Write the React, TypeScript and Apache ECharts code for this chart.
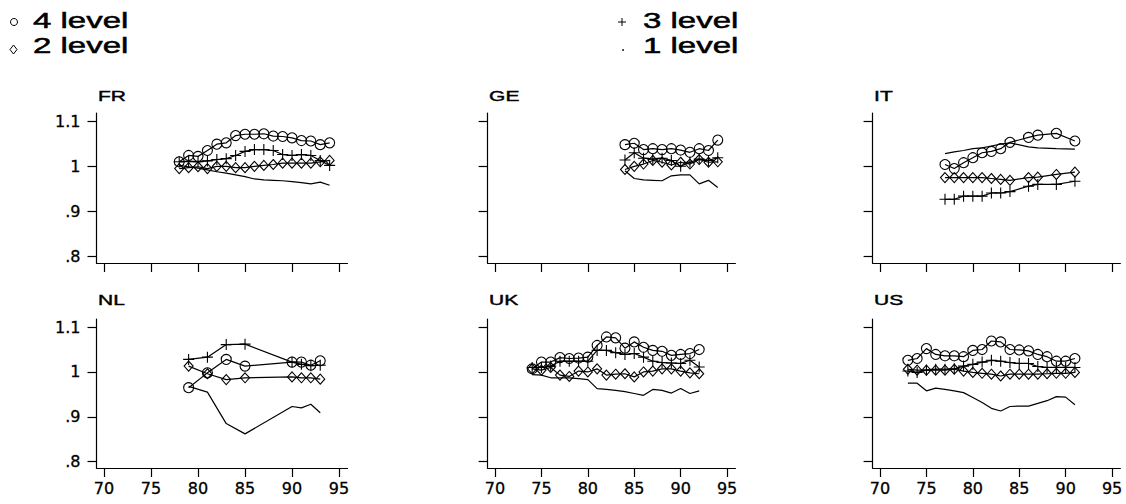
import React, { useEffect, useRef } from "react";
import * as echarts from "echarts";

const levelLabels = ["4 level", "3 level", "2 level", "1 level"];
const countries = ["FR", "GE", "IT", "NL", "UK", "US"];
const xTicks = [70, 75, 80, 85, 90, 95];
const yTicks = [0.8, 0.9, 1.0, 1.1];

const frYears = [78, 79, 80, 81, 82, 83, 84, 85, 86, 87, 88, 89, 90, 91, 92, 93, 94];
const fr4 = [1.010, 1.024, 1.022, 1.035, 1.049, 1.052, 1.068, 1.071, 1.071, 1.072, 1.067, 1.066, 1.063, 1.057, 1.056, 1.048, 1.052];
const fr3 = [1.010, 1.011, 1.010, 1.012, 1.015, 1.017, 1.024, 1.033, 1.037, 1.037, 1.035, 1.026, 1.024, 1.026, 1.024, 1.013, 1.002];
const fr2 = [0.995, 0.997, 0.999, 0.995, 1.000, 1.000, 0.997, 0.997, 1.000, 1.002, 1.004, 1.007, 1.007, 1.007, 1.007, 1.010, 1.013];
const fr1 = [1.002, 0.999, 0.996, 0.992, 0.988, 0.985, 0.981, 0.977, 0.972, 0.970, 0.969, 0.968, 0.966, 0.964, 0.961, 0.965, 0.958];

const geYears = [84, 85, 86, 87, 88, 89, 90, 91, 92, 93, 94];
const ge4 = [1.048, 1.051, 1.037, 1.039, 1.037, 1.039, 1.036, 1.031, 1.039, 1.035, 1.058];
const ge3 = [1.014, 1.030, 1.018, 1.016, 1.018, 1.013, 1.000, 1.009, 1.016, 1.013, 1.019];
const ge2 = [0.993, 1.000, 1.005, 1.013, 1.009, 1.003, 1.009, 1.005, 1.015, 1.009, 1.010];
const ge1 = [0.990, 0.973, 0.970, 0.969, 0.968, 0.979, 0.981, 0.981, 0.961, 0.969, 0.953];

const itYears = [77, 78, 79, 80, 81, 82, 83, 84, 86, 87, 89, 91];
const it4 = [1.004, 0.995, 1.008, 1.019, 1.030, 1.033, 1.039, 1.053, 1.064, 1.069, 1.073, 1.056];
const it3 = [0.927, 0.927, 0.934, 0.934, 0.934, 0.941, 0.941, 0.944, 0.956, 0.960, 0.960, 0.967];
const it2 = [0.975, 0.975, 0.975, 0.975, 0.975, 0.973, 0.971, 0.969, 0.975, 0.976, 0.982, 0.987];
const it1 = [1.028, 1.032, 1.035, 1.039, 1.041, 1.045, 1.049, 1.052, 1.043, 1.041, 1.039, 1.038];

const nlYears = [79, 81, 83, 85, 90, 91, 92, 93];
const nl4 = [0.965, 0.998, 1.028, 1.013, 1.022, 1.022, 1.015, 1.025];
const nl3 = [1.028, 1.033, 1.061, 1.062, 1.022, 1.017, 1.014, 1.015];
const nl2 = [1.013, 0.996, 0.983, 0.987, 0.989, 0.987, 0.987, 0.984];
const nl1 = [0.968, 0.955, 0.885, 0.862, 0.923, 0.920, 0.928, 0.909];

const ukYears = [74, 75, 76, 77, 78, 79, 80, 81, 82, 83, 84, 85, 86, 87, 88, 89, 90, 91, 92];
const uk4 = [1.007, 1.022, 1.022, 1.032, 1.030, 1.031, 1.033, 1.059, 1.078, 1.076, 1.053, 1.067, 1.055, 1.048, 1.046, 1.037, 1.039, 1.041, 1.050];
const uk3 = [1.010, 1.010, 1.013, 1.024, 1.024, 1.024, 1.024, 1.048, 1.048, 1.043, 1.039, 1.041, 1.033, 1.024, 1.021, 1.020, 1.019, 1.026, 1.011];
const uk2 = [1.007, 1.004, 1.010, 0.993, 0.990, 1.002, 1.000, 1.007, 0.993, 0.995, 0.996, 0.989, 1.000, 1.002, 1.007, 1.007, 1.002, 0.998, 0.996];
const uk1 = [0.994, 0.993, 0.987, 0.987, 0.987, 0.985, 0.983, 0.963, 0.961, 0.959, 0.956, 0.952, 0.948, 0.961, 0.959, 0.953, 0.963, 0.952, 0.958];

const usYears = [73, 74, 75, 76, 77, 78, 79, 80, 81, 82, 83, 84, 85, 86, 87, 88, 89, 90, 91];
const us4 = [1.026, 1.030, 1.052, 1.039, 1.036, 1.036, 1.034, 1.048, 1.050, 1.069, 1.067, 1.050, 1.049, 1.047, 1.039, 1.034, 1.024, 1.024, 1.030];
const us3 = [1.002, 0.999, 1.004, 1.006, 1.006, 1.007, 1.013, 1.017, 1.022, 1.026, 1.024, 1.021, 1.019, 1.019, 1.012, 1.010, 1.010, 1.010, 1.010];
const us2 = [1.006, 1.004, 1.004, 1.004, 1.004, 1.006, 1.002, 0.999, 0.997, 0.995, 0.991, 0.995, 0.995, 0.995, 0.995, 0.996, 0.997, 0.997, 0.999];
const us1 = [0.975, 0.975, 0.958, 0.964, 0.961, 0.958, 0.954, 0.943, 0.932, 0.919, 0.913, 0.923, 0.924, 0.924, 0.930, 0.936, 0.945, 0.944, 0.927];

const panelData = [
  { years: frYears, levels: [fr4, fr3, fr2, fr1] },
  { years: geYears, levels: [ge4, ge3, ge2, ge1] },
  { years: itYears, levels: [it4, it3, it2, it1] },
  { years: nlYears, levels: [nl4, nl3, nl2, nl1] },
  { years: ukYears, levels: [uk4, uk3, uk2, uk1] },
  { years: usYears, levels: [us4, us3, us2, us1] },
];

const PLUS = "path://M5,0L5,10M0,5L10,5";
const colLeft = [96.5, 487.6, 872.6];
const colWidth = [251, 247.8, 247.8];
const rowTop = [113, 319];
const rowHeight = [150, 149];
const X_MIN = 69.2;
const X_MAX = 95.9;
const Y_MIN = 0.786;
const Y_MAX = 1.118;
const TICK_FONT = "DejaVu Sans";
const TEXT_FONT = "Liberation Sans";

function fmtY(v: number): string {
  const s = (Math.round(v * 10) / 10).toString();
  return s.startsWith("0") ? s.slice(1) : s;
}

function buildOption() {
  const grid: any[] = [];
  const xAxis: any[] = [];
  const yAxis: any[] = [];
  const series: any[] = [];
  const graphic: any[] = [];

  countries.forEach((name, i) => {
    const row = Math.floor(i / 3);
    const col = i % 3;
    grid.push({
      left: colLeft[col],
      top: rowTop[row],
      width: colWidth[col],
      height: rowHeight[row],
      containLabel: false,
      outerBoundsMode: "none",
    });
    xAxis.push({
      type: "value",
      gridIndex: i,
      min: X_MIN,
      max: X_MAX,
      axisLine: { show: true, onZero: false, lineStyle: { color: "#000", width: 1.2 } },
      axisTick: { show: true, inside: false, length: 9, customValues: xTicks, lineStyle: { color: "#000", width: 1.2 } },
      axisLabel: {
        show: row === 1,
        customValues: xTicks,
        margin: 12,
        fontFamily: TICK_FONT,
        fontSize: 16,
        color: "#000",
        textBorderColor: "#000",
        textBorderWidth: 0.3,
      },
      splitLine: { show: false },
    });
    yAxis.push({
      type: "value",
      gridIndex: i,
      min: Y_MIN,
      max: Y_MAX,
      axisLine: { show: true, onZero: false, lineStyle: { color: "#000", width: 1.2 } },
      axisTick: { show: true, inside: false, length: 9, customValues: yTicks, lineStyle: { color: "#000", width: 1.2 } },
      axisLabel: {
        show: col === 0,
        customValues: yTicks,
        margin: 16,
        fontFamily: TICK_FONT,
        fontSize: 16,
        color: "#000",
        textBorderColor: "#000",
        textBorderWidth: 0.3,
        formatter: fmtY,
      },
      splitLine: { show: false },
    });

    const pd = panelData[i];
    pd.levels.forEach((vals, li) => {
      const base: any = {
        type: "line",
        name: levelLabels[li],
        xAxisIndex: i,
        yAxisIndex: i,
        silent: true,
        data: pd.years.map((y, k) => [y, vals[k]]),
        lineStyle: { color: "#000", width: 1.2 },
        itemStyle: { color: "rgba(0,0,0,0)", borderColor: "#000", borderWidth: 1.1 },
        showAllSymbol: true,
        emphasis: { disabled: true },
      };
      if (li === 0) {
        base.symbol = "circle";
        base.symbolSize = 10;
      } else if (li === 1) {
        base.symbol = PLUS;
        base.symbolSize = 11;
      } else if (li === 2) {
        base.symbol = "diamond";
        base.symbolSize = [9, 10];
      } else {
        base.symbol = "none";
      }
      series.push(base);
    });

    graphic.push({
      type: "text",
      x: colLeft[col] + 1.5,
      y: row === 0 ? 96.5 : 300,
      scaleX: 1.5,
      style: {
        text: name,
        fontFamily: TEXT_FONT,
        fontSize: 14,
        fill: "#000",
        stroke: "#000",
        lineWidth: 0.4,
        align: "left",
        verticalAlign: "middle",
      },
    });
  });

  // legend
  const legendText = (text: string, x: number, y: number) => ({
    type: "text",
    x,
    y,
    scaleX: 1.5,
    style: {
      text,
      fontFamily: TEXT_FONT,
      fontSize: 22,
      fill: "#000",
      stroke: "#000",
      lineWidth: 0.5,
      align: "left",
      verticalAlign: "middle",
    },
  });
  graphic.push(
    { type: "circle", shape: { cx: 14, cy: 22, r: 3.5 }, style: { fill: "none", stroke: "#000", lineWidth: 1 } },
    legendText(levelLabels[0], 33, 20.5),
    {
      type: "polygon",
      shape: { points: [[13.5, 45], [17, 49.5], [13.5, 54], [10, 49.5]] },
      style: { fill: "none", stroke: "#000", lineWidth: 1 },
    },
    legendText(levelLabels[2], 33, 45.5),
    { type: "line", shape: { x1: 618, y1: 22, x2: 626, y2: 22 }, style: { stroke: "#000", lineWidth: 1 } },
    { type: "line", shape: { x1: 622, y1: 18, x2: 622, y2: 26 }, style: { stroke: "#000", lineWidth: 1 } },
    legendText(levelLabels[1], 643, 20.5),
    { type: "circle", shape: { cx: 623, cy: 50, r: 0.9 }, style: { fill: "#000" } },
    legendText(levelLabels[3], 643, 45.5)
  );

  return {
    animation: false,
    backgroundColor: "#fff",
    grid,
    xAxis,
    yAxis,
    series,
    graphic,
  };
}

export default function App() {
  const ref = useRef<HTMLDivElement>(null);
  useEffect(() => {
    if (!ref.current) return;
    const chart = echarts.init(ref.current, undefined, { renderer: "svg" });
    chart.setOption(buildOption() as any);
    return () => chart.dispose();
  }, []);
  return (
    <div
      ref={ref}
      style={{ position: "absolute", left: 0, top: 0, width: 1126, height: 504, background: "#fff" }}
    />
  );
}
